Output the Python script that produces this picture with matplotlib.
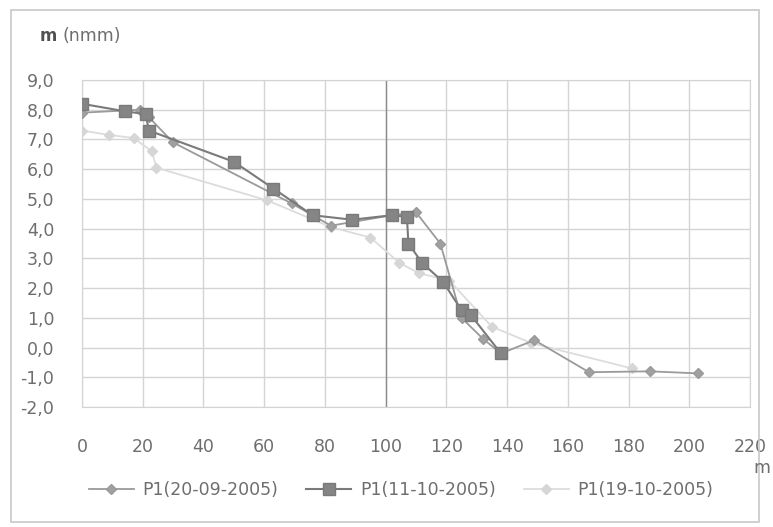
import matplotlib
matplotlib.use("Agg")
import matplotlib.pyplot as plt
from matplotlib.patches import Rectangle
from matplotlib.ticker import FuncFormatter

plt.rcParams['font.family'] = ['DejaVu Sans']

# P1(20-09-2005)
x1 = [0, 19, 22, 30, 69, 82, 102, 110, 118, 125, 132, 138, 149, 167, 187, 203]
y1 = [7.9, 8.0, 7.75, 6.9, 4.85, 4.1, 4.45, 4.55, 3.5, 1.0, 0.3, -0.2, 0.25, -0.83, -0.8, -0.87]

# P1(11-10-2005)
x2 = [0, 14, 21, 22, 50, 63, 76, 89, 102, 107, 107.5, 112, 119, 125, 128, 138]
y2 = [8.2, 7.95, 7.85, 7.3, 6.25, 5.35, 4.45, 4.3, 4.45, 4.4, 3.5, 2.85, 2.2, 1.25, 1.1, -0.2]

# P1(19-10-2005)
x3 = [0, 9, 17, 23, 24.5, 61, 82, 95, 104.5, 111, 121, 135, 148, 181]
y3 = [7.3, 7.15, 7.05, 6.6, 6.05, 4.95, 4.05, 3.7, 2.85, 2.5, 2.25, 0.7, 0.15, -0.7]

labels = ['P1(20-09-2005)', 'P1(11-10-2005)', 'P1(19-10-2005)']
xticks = list(range(0, 221, 20))
yticks = [-2, -1, 0, 1, 2, 3, 4, 5, 6, 7, 8, 9]

W, H = 773, 527
fig = plt.figure(figsize=(W / 100, H / 100), dpi=100)
ax = fig.add_axes([82 / W, 1 - 407 / H, (750 - 82) / W, (407 - 80) / H])

txt = '#6e6e6e'
fs = 12.5
ax.plot(x1, y1, color='#9a9a9a', lw=1.3, marker='D', ms=5.5, mec='#9a9a9a', mfc='#a0a0a0',
        label=labels[0], zorder=3)
ax.plot(x2, y2, color='#7a7a7a', lw=1.5, marker='s', ms=9, mec='#7a7a7a', mfc='#858585',
        label=labels[1], zorder=4)
ax.plot(x3, y3, color='#dcdcdc', lw=1.3, marker='D', ms=5.5, mec='#d6d6d6', mfc='#d6d6d6',
        label=labels[2], zorder=2)

ax.set_xlim(0, 220)
ax.set_ylim(-2, 9)
ax.set_xticks(xticks)
ax.set_yticks(yticks)
ax.yaxis.set_major_formatter(FuncFormatter(lambda v, p: f'{v:.1f}'.replace('.', ',')))
ax.grid(True, color='#d4d4d4', lw=1)
ax.axvline(100, color='#8c8c8c', lw=1, zorder=1)
ax.set_axisbelow(True)
for s in ax.spines.values():
    s.set_color('#d4d4d4')
ax.tick_params(length=0, colors=txt, labelsize=fs)
ax.tick_params(axis='x', pad=22)
ax.tick_params(axis='y', pad=20)

fig.text(40 / W, 1 - 36 / H, 'm', fontsize=12, fontweight='bold', color='#505050', va='center')
fig.text(62 / W, 1 - 36 / H, '(nmm)', fontsize=12.5, color=txt, va='center')
fig.text(762 / W, 1 - 468 / H, 'm', fontsize=fs, color=txt, ha='center', va='center')

fig.legend(loc='center', bbox_to_anchor=(401 / W, 1 - 490 / H), ncol=3, frameon=False,
           fontsize=fs, labelcolor=txt, handlelength=2.6, columnspacing=1.6, handletextpad=0.5)

fig.patches.append(Rectangle((11 / W, 5 / H), 748 / W, 1 - 15 / H, transform=fig.transFigure,
                             fill=False, ec='#c8c8c8', lw=1.2))

fig.savefig('out.png', dpi=100, facecolor='white')
